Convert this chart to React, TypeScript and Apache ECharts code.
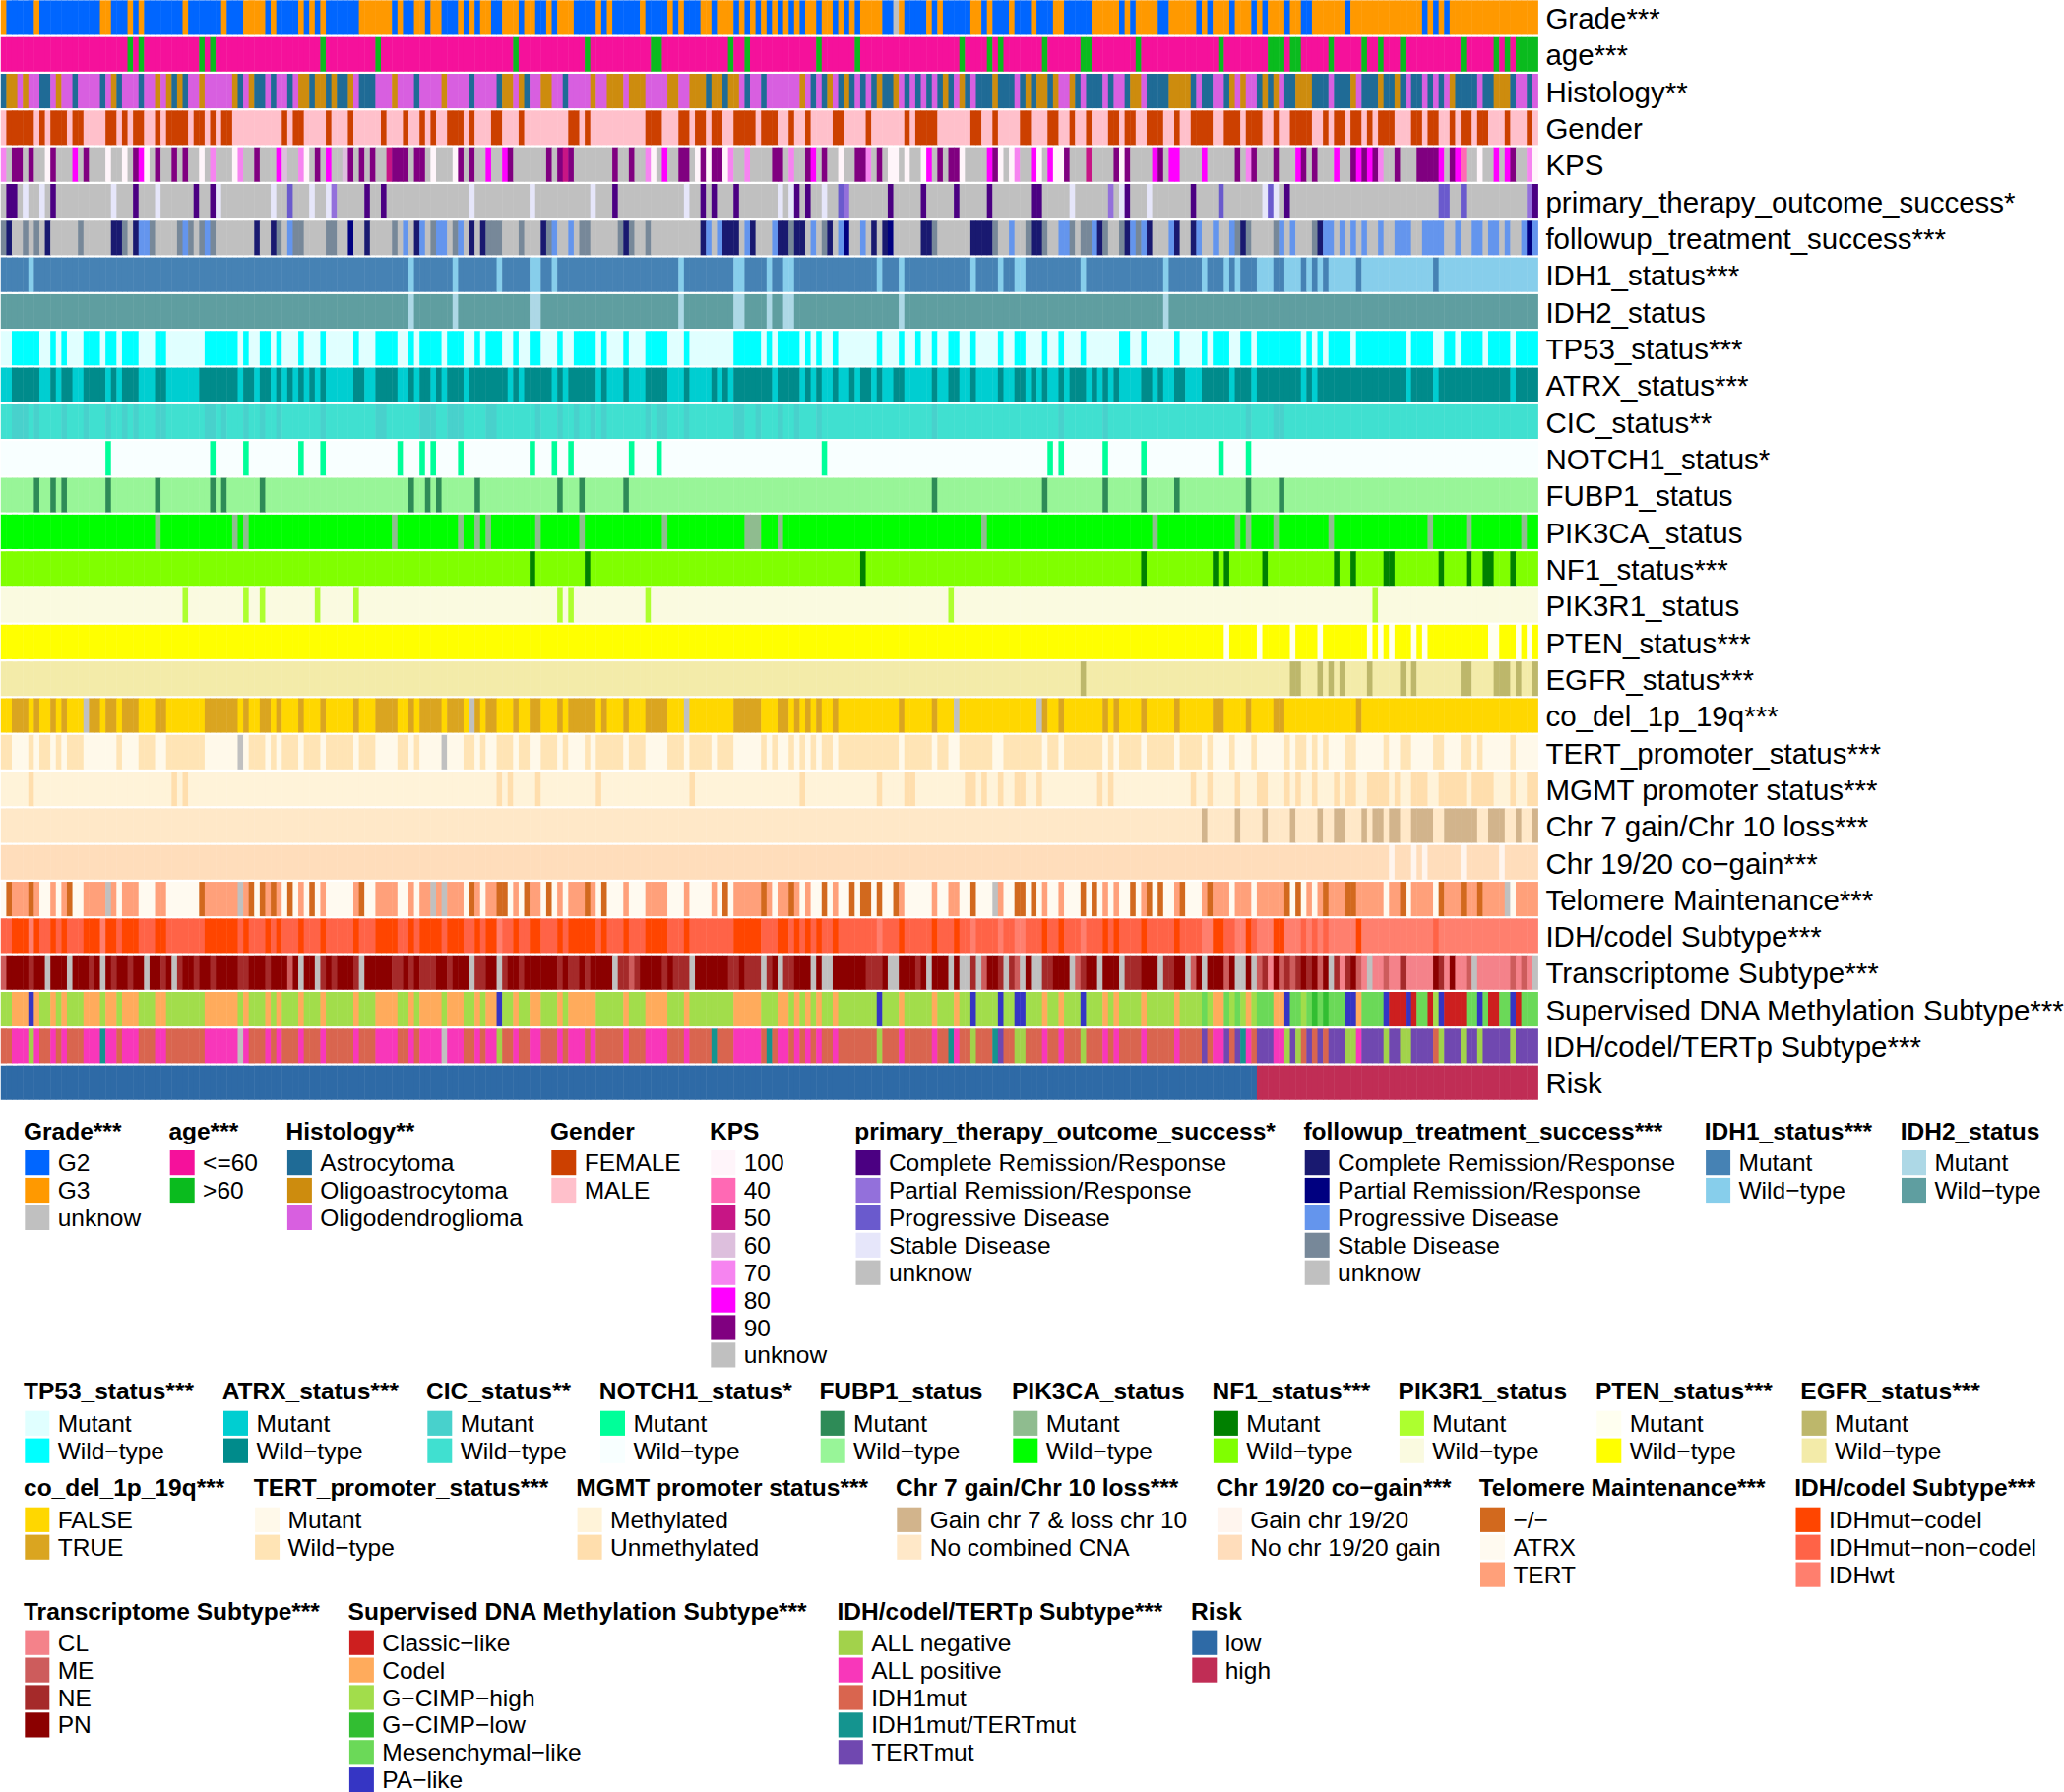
import React, { useEffect, useRef } from "react";
import * as echarts from "echarts";

const SAMPLE_COUNT = 279;
const FONT = '"Liberation Sans", Arial, sans-serif';
const GRAY = "#C0C0C0";

// Column spans are written "from-to" in sample order (to is exclusive).
const gradeLevels = ["G2", "G3", "unknow"];
const gradeRuns = {
  G2: "1-6 7-18 20-23 24-25 26-33 34-40 41-44 48-49 50-54 55-56 57-58 59-65 71-72 73-75 77-78 80-83 84-85 86-87 89-91 94-95 97-99 100-101 104-108 109-110 111-116 117-121 122-123 124-127 129-130 133-134 135-136 137-138 139-140 141-142 143-144 145-146 148-149 151-152 153-154 155-156 160-162 164-168 169-170 171-176 178-179 180-183 184-187 188-191 193-198 203-204 205-206 210-212 217-218 219-220 223-224 227-228 229-230 233-234 236-238 244-245 258-259 260-261 262-263",
  unknow: "162-163",
};

const ageLevels = ["<=60", ">60"];
const ageRuns = {
  ">60": "23-24 25-26 36-37 38-39 58-59 68-69 93-94 106-107 118-120 132-133 135-136 148-149 155-156 174-175 179-180 181-182 189-190 196-198 206-207 221-222 230-233 234-236 241-242 247-248 250-251 254-255 265-266 271-272 273-274 275-279",
};

const histologyLevels = ["Astrocytoma", "Oligoastrocytoma", "Oligodendroglioma"];
const histologyRuns = {
  Astrocytoma: "0-1 7-9 13-14 18-19 21-22 25-26 31-32 33-34 43-44 46-48 49-50 52-53 56-57 59-60 61-63 65-68 75-76 85-86 90-91 95-96 102-103 128-129 131-132 135-136 138-139 147-148 149-150 152-153 154-155 156-157 158-159 160-162 164-165 166-167 168-169 170-171 172-173 175-176 177-180 181-184 185-186 187-188 190-191 195-196 197-200 201-202 204-205 208-212 216-217 218-220 222-223 228-229 230-231 233-235 238-241 242-245 247-250 251-253 254-255 256-258 259-260 261-262 264-268 269-271 274-275 277-278",
  Oligoastrocytoma: "1-3 4-5 10-11 20-21 28-29 30-31 32-33 36-37 42-43 45-46 54-56 57-59 60-61 63-64 71-72 80-81 91-93 94-95 98-100 107-108 110-113 114-117 121-123 125-128 129-131 132-134 145-146 150-151 153-154 159-160 162-163 171-172 174-175 180-181 186-187 188-190 191-192 194-195 205-207 212-216 223-224 225-226 229-230 231-232 235-238 245-246 250-251 253-254 263-264 271-274",
};

const genderLevels = ["FEMALE", "MALE"];
const genderRuns = {
  FEMALE: "1-6 7-8 9-12 13-15 19-21 22-23 24-26 28-29 30-34 35-37 38-39 40-42 51-52 53-55 59-60 63-64 69-70 73-74 76-77 78-79 81-84 85-86 89-91 94-95 103-105 106-107 117-120 123-125 126-128 129-131 133-137 138-141 143-144 146-147 151-153 157-158 164-165 166-170 176-178 180-181 185-187 190-192 194-195 197-198 201-203 204-206 208-211 213-214 216-220 222-225 226-229 231-232 234-238 240-241 242-244 245-247 248-249 250-253 256-258 259-261 263-264 265-267 268-270 273-274 277-278",
};

const kpsLevels = ["100", "40", "50", "60", "70", "80", "90", "unknow"];
const kpsRuns = {
  "100": "8-9 19-20 22-23 26-27 36-37 42-43 55-56 78-79 82-83 118-119 126-127 128-129 131-132 152-153 161-163 164-165 167-168 174-175 181-182 183-184 188-189 191-193 203-204 268-269 278-279",
  "40": "265-266",
  "50": "70-71 102-103 197-198",
  "60": "51-52 62-63",
  "70": "0-1 38-39 43-44 54-55 117-118 132-133 135-136 143-144 157-158 184-185 226-227 250-251 277-278",
  "80": "13-14 25-26 50-51 59-60 88-89 91-92 120-121 147-148 168-169 179-180 187-188 190-191 209-210 212-214 218-219 235-236 242-243 246-247 248-249 261-262 264-265 271-272 273-274",
  "90": "2-4 5-6 9-10 15-16 24-25 28-29 31-32 33-34 46-47 57-58 63-64 65-66 67-68 71-74 75-77 83-84 85-86 92-93 99-100 101-102 103-104 111-112 114-115 123-125 127-128 129-131 140-142 146-147 149-150 155-157 159-160 170-171 172-174 180-181 193-194 202-203 204-205 210-211 224-225 227-228 231-232 236-237 238-239 245-246 247-248 249-250 253-254 257-261 263-264 274-275",
};

const responseLevels = ["Complete Remission/Response", "Partial Remission/Response", "Progressive Disease", "Stable Disease", "unknow"];
const primaryRuns = {
  "Complete Remission/Response": "1-3 9-10 24-25 35-36 38-39 66-67 69-70 111-112 127-128 129-130 133-134 144-145 146-147 161-162 167-168 173-174 179-180 187-189 204-205 216-217 233-234 278-279",
  "Partial Remission/Response": "60-61 153-154 201-202 277-278",
  "Progressive Disease": "52-53 152-153 221-222 230-231 261-263 265-266",
  "Stable Disease": "4-5 7-8 20-21 28-29 39-40 49-50 56-57 59-60 85-86 96-97 107-108 124-125 141-142 143-144 149-150 194-195 203-204 208-209 229-230 231-232",
};
const followupRuns = {
  "Complete Remission/Response": "1-2 8-9 20-22 24-25 46-47 49-50 66-67 75-76 85-86 87-88 98-99 113-114 127-128 131-134 136-137 141-143 144-146 150-151 158-159 160-161 167-169 176-180 187-189 199-200 204-205 208-209 213-214 216-217 225-226 239-240",
  "Partial Remission/Response": "63-64 153-154 161-162 277-278",
  "Progressive Disease": "25-27 33-34 37-38 52-53 73-74 76-77 79-81 83-84 100-101 103-104 128-129 130-131 135-136 140-141 147-148 152-153 156-157 183-184 192-194 198-199 205-206 207-208 212-213 217-218 220-221 223-224 232-233 234-235 240-242 243-244 245-246 247-248 250-251 253-256 258-262 264-265 267-269 270-272 273-274 276-277 278-279",
  "Stable Disease": "0-1 4-5 6-7 14-15 22-23 27-28 32-33 34-35 36-37 38-39 50-51 53-55 59-61 71-72 78-79 82-83 88-91 94-95 99-100 105-107 112-113 114-115 117-118 143-144 149-150 169-170 180-181 186-187 189-190 194-195 196-198 200-201 203-204 206-207 224-225 226-227 231-232 238-239",
};

const mutWildLevels = ["Mutant", "Wild−type"];
const idh1Runs = { "Wild−type": "5-6 74-75 82-83 90-91 96-98 100-101 123-124 133-135 139-140 142-144 159-160 163-164 176-177 181-182 184-186 196-197 211-212 218-219 222-223 224-225 228-231 233-236 237-238 239-240 241-246 247-260 261-279" };
const idh2Runs = { Mutant: "74-75 82-83 96-98 123-124 133-135 139-140 142-144 163-164 211-212" };
const tp53Runs = { "Wild−type": "2-7 9-10 11-12 15-18 19-21 22-25 28-30 37-43 44-45 47-49 50-51 54-55 58-59 64-65 68-72 74-75 76-80 81-84 86-87 88-91 93-94 96-98 101-102 104-108 109-110 113-114 117-121 124-125 133-138 139-140 141-145 146-147 148-149 151-152 159-160 163-164 166-167 169-170 172-174 176-177 181-182 184-186 189-190 192-193 196-197 203-205 207-208 213-214 218-219 220-223 225-227 228-236 237-238 239-240 241-245 246-255 256-260 262-264 265-269 270-274 275-279" };
const atrxRuns = { "Wild−type": "2-7 9-10 11-13 15-19 20-21 22-25 28-30 36-43 44-46 47-49 50-51 52-53 54-55 56-57 58-59 64-66 68-72 74-75 76-78 79-80 81-84 85-92 93-94 95-100 101-102 103-108 109-110 113-114 117-121 124-125 129-130 131-132 133-140 141-145 146-147 148-149 151-152 154-155 156-158 159-160 162-164 169-170 172-174 176-177 181-182 184-186 187-188 189-190 192-193 194-197 198-199 200-201 202-203 207-209 210-211 213-215 218-223 224-227 228-236 237-238 239-255 256-260 261-274 275-279" };
const cicRuns = { Mutant: "2-5 6-7 11-12 15-16 19-20 22-23 24-25 28-30 37-39 40-41 44-45 47-48 50-51 58-59 68-70 76-79 81-84 88-90 97-98 101-102 104-105 107-108 109-110 117-118 119-121 124-125 133-135 137-138 141-142 144-145 148-149 169-170 192-193 200-201 226-227 231-233" };
const notch1Runs = { Mutant: "19-20 38-39 44-45 54-55 58-59 72-73 76-77 78-79 83-84 96-97 100-101 103-104 114-115 119-120 149-150 190-191 192-193 200-201 207-208 221-222 226-227" };
const fubp1Runs = { Mutant: "6-7 9-10 11-12 19-20 28-29 38-39 40-41 47-48 74-75 77-78 79-80 86-87 101-102 105-106 113-114 169-170 189-190 200-201 207-208 213-214 226-227 232-233" };
const pik3caRuns = { Mutant: "28-29 42-43 44-45 71-72 83-84 86-87 88-89 97-98 105-106 120-121 135-138 141-142 178-179 209-210 224-225 226-227 231-232 241-242 259-260 266-267 276-277" };
const nf1Runs = { Mutant: "96-97 106-107 156-157 207-208 220-221 222-223 229-230 242-243 245-246 251-253 261-262 266-267 269-271 274-275" };
const pik3r1Runs = { Mutant: "33-34 44-45 47-48 57-58 64-65 101-102 103-104 117-118 172-173 249-250" };
const ptenRuns = { Mutant: "222-223 228-229 234-235 239-240 248-249 250-251 252-253 256-257 258-259 270-272 275-276 277-278" };
const egfrRuns = { Mutant: "196-197 234-236 239-240 241-242 243-244 248-249 254-255 256-257 265-267 271-274 275-276 278-279" };

const codelLevels = ["FALSE", "TRUE"];
const codelRuns = {
  TRUE: "2-5 6-7 9-10 11-12 16-18 19-21 22-25 28-30 37-43 44-45 47-49 50-51 54-55 58-59 64-65 68-72 74-75 76-80 81-84 86-87 88-90 93-94 96-98 101-102 103-108 109-110 113-114 117-121 133-138 141-143 144-145 146-147 148-149 151-152 163-164 169-170 189-190 192-193 200-201 202-203 207-208 213-214 220-222 226-227 231-233 246-247",
  NA: "15-16 85-86 124-125 173-174 188-189",
};
const tertRuns = {
  "Wild−type": "0-2 5-6 7-9 10-11 12-15 21-22 25-28 30-37 45-48 49-50 51-54 55-58 59-64 65-68 72-74 75-76 84-86 87-88 90-93 94-96 98-101 102-103 106-107 108-113 114-117 121-124 125-129 130-133 138-139 140-141 143-144 145-146 147-148 149-151 152-163 164-169 170-172 174-180 182-189 190-192 193-200 201-202 203-207 208-213 214-218 219-220 223-224 227-228 233-234 235-237 238-239 240-241 244-246 251-252 254-256 260-262 265-267 268-269 274-275",
  NA: "43-44 80-81",
};
const mgmtLevels = ["Methylated", "Unmethylated"];
const mgmtRuns = { Unmethylated: "5-6 31-32 33-34 90-91 92-93 97-98 108-109 125-126 145-146 159-160 164-166 175-177 178-179 181-182 184-186 188-189 199-200 201-202 216-217 219-220 224-225 228-230 233-234 235-236 238-239 242-243 244-246 248-252 253-254 256-259 261-266 267-271 274-275 277-279" };
const chr7Levels = ["Gain chr 7 & loss chr 10", "No combined CNA"];
const chr7Runs = { "Gain chr 7 & loss chr 10": "218-219 224-225 229-230 234-235 239-240 242-244 247-248 249-251 252-254 256-260 262-268 270-273 275-276 278-279" };
const chr19Levels = ["Gain chr 19/20", "No chr 19/20 gain"];
const chr19Runs = { "Gain chr 19/20": "252-253 256-257 258-259 265-266 272-273" };

const telomereLevels = ["−/−", "ATRX", "TERT"];
const telomereRuns = {
  "−/−": "1-2 5-6 12-13 36-37 45-46 47-48 49-50 52-53 56-57 65-66 85-86 90-92 95-96 99-100 106-107 109-110 131-132 138-139 143-144 149-150 154-155 156-158 159-160 162-163 176-177 184-186 187-188 196-197 198-199 205-206 208-209 210-211 214-215 219-220 233-234 235-236 240-241 244-246 254-255 261-262 265-266 268-269",
  TERT: "2-5 6-7 9-10 11-12 15-19 20-21 22-25 28-30 37-43 44-45 48-49 50-51 54-55 58-59 64-65 68-72 74-75 76-78 79-80 81-84 86-87 88-90 93-94 96-98 101-102 103-106 107-108 113-114 117-121 124-125 129-130 133-138 139-140 141-143 144-145 146-147 151-152 163-164 169-170 172-174 181-182 189-190 192-193 200-201 202-203 207-208 213-214 218-219 220-223 224-227 228-233 237-238 239-240 241-244 246-251 252-254 256-260 262-265 266-268 269-273 275-279",
  NA: "19-20 43-44 78-79 80-81 180-181 273-274",
};

const subtypeLevels = ["IDHmut−codel", "IDHmut−non−codel", "IDHwt"];
const subtypeRuns = {
  "IDHmut−codel": "2-5 6-7 9-10 11-12 15-18 19-21 22-25 28-30 37-43 44-45 48-49 50-51 54-55 58-59 64-65 68-72 74-75 76-80 81-84 86-87 88-90 93-94 96-98 101-102 103-108 109-110 113-114 117-121 124-125 133-138 141-143 144-145 146-147 148-149 151-152 163-164 169-170 173-174 189-190 192-193 200-201 202-203 207-208 213-214 220-222 226-227 231-233 246-247",
  IDHwt: "5-6 18-19 90-91 159-160 176-177 181-182 184-186 196-197 218-220 224-226 228-231 233-236 237-238 239-240 241-246 247-260 261-279",
};

const transcriptomeLevels = ["CL", "ME", "NE", "PN"];
const transcriptomeRuns = {
  CL: "230-231 243-244 247-248 249-251 252-254 255-260 262-263 264-266 268-274 275-276 277-278",
  ME: "0-1 52-53 114-115 178-179 184-185 195-196 216-217 222-223 228-229 232-233 234-235 239-240 246-247 251-252 266-267 274-275 276-277",
  NE: "5-6 16-17 20-21 23-24 29-30 32-33 35-36 38-39 43-45 48-49 58-59 60-61 64-65 71-73 74-75 76-79 81-82 86-88 91-92 94-95 101-102 103-105 106-107 112-114 115-116 120-121 122-125 132-134 135-138 139-140 142-144 157-160 166-167 176-177 181-182 183-184 189-191 196-197 204-207 211-213 229-230 233-234 235-236 237-238 242-243 244-245 254-255 261-262",
  NA: "8-9 12-13 18-19 26-27 31-32 54-55 57-58 65-66 85-86 90-91 111-112 125-126 138-139 141-142 147-148 149-151 161-163 168-169 172-173 174-176 177-178 182-183 185-186 187-189 194-195 199-200 203-204 210-211 215-216 218-219 224-226 227-228 241-242 248-249 267-268 278-279",
};

const methylationLevels = ["Classic−like", "Codel", "G−CIMP−high", "G−CIMP−low", "Mesenchymal−like", "PA−like"];
const methylationRuns = {
  "Classic−like": "252-255 256-257 259-260 262-266 270-272 275-276",
  Codel: "2-5 6-7 9-10 11-12 15-18 19-21 22-25 28-30 37-43 44-45 48-49 50-51 54-55 58-59 64-65 68-72 74-75 76-80 81-84 86-87 88-90 93-94 96-98 101-102 103-108 113-114 117-121 124-125 133-138 141-143 144-145 146-147 148-149 151-152 163-164 169-170 173-174 189-190 192-193 200-201 202-203 207-208 213-214 220-222 226-227 231-233 246-247",
  "G−CIMP−low": "238-239 240-241",
  "Mesenchymal−like": "218-219 222-223 224-225 228-231 234-236 237-238 239-240 241-244 247-251 257-259 266-268 269-270 272-274 276-279",
  "PA−like": "5-6 90-91 159-160 176-177 181-182 184-186 196-197 233-234 244-246 251-252 255-256 261-262 268-269 274-275",
};

const tertSubtypeLevels = ["ALL negative", "ALL positive", "IDH1mut", "IDH1mut/TERTmut", "TERTmut"];
const tertSubtypeRuns = {
  "ALL negative": "5-6 90-91 159-160 176-177 184-186 196-197 233-234 235-236 244-246 251-252 254-256 261-262 265-266 268-269 274-275",
  "ALL positive": "2-5 6-7 9-10 11-12 15-18 19-21 22-25 28-30 37-43 44-45 48-49 50-51 54-55 58-59 64-65 68-72 74-75 76-80 81-84 86-87 88-90 93-94 96-98 101-102 103-106 107-108 113-114 117-121 124-125 133-138 141-143 144-145 146-147 148-149 151-152 163-164 169-170 173-174 189-190 192-193 200-201 202-203 207-208 213-214 220-222 226-227 231-233 246-247",
  "IDH1mut/TERTmut": "18-19 129-130 139-140 172-173 180-181 225-226",
  TERTmut: "181-182 218-219 222-223 224-225 228-231 234-235 237-238 239-240 241-244 247-251 252-254 256-260 262-265 266-268 269-274 275-279",
  NA: "43-44 80-81",
};

const riskLevels = ["low", "high"];
const riskRuns = { high: "228-279" };

// Palettes (styles), in the same order as each track's levels.
const gradeColors = ["#0066FF", "#FF9900", GRAY];
const ageColors = ["#F5119B", "#0ABB1E"];
const histologyColors = ["#1F6B96", "#CD8C0E", "#D85FE0"];
const genderColors = ["#CC4000", "#FFC0CB"];
const kpsColors = ["#FFF5FA", "#FF69B4", "#C71585", "#DDBFDD", "#F684F0", "#FF00FF", "#800080", GRAY];
const primaryColors = ["#4B0082", "#9370DB", "#6A5ACD", "#E6E6FA", GRAY];
const followupColors = ["#191970", "#000080", "#6495ED", "#778899", GRAY];

const trackDefs: any[] = [
  ["Grade***", gradeLevels, gradeColors, "G3", gradeRuns],
  ["age***", ageLevels, ageColors, "<=60", ageRuns],
  ["Histology**", histologyLevels, histologyColors, "Oligodendroglioma", histologyRuns],
  ["Gender", genderLevels, genderColors, "MALE", genderRuns],
  ["KPS", kpsLevels, kpsColors, "unknow", kpsRuns],
  ["primary_therapy_outcome_success*", responseLevels, primaryColors, "unknow", primaryRuns],
  ["followup_treatment_success***", responseLevels, followupColors, "unknow", followupRuns],
  ["IDH1_status***", mutWildLevels, ["#4682B4", "#87CEEB"], "Mutant", idh1Runs],
  ["IDH2_status", mutWildLevels, ["#ADD8E6", "#5F9EA0"], "Wild−type", idh2Runs],
  ["TP53_status***", mutWildLevels, ["#E0FFFF", "#00FFFF"], "Mutant", tp53Runs],
  ["ATRX_status***", mutWildLevels, ["#00CED1", "#008B8B"], "Mutant", atrxRuns],
  ["CIC_status**", mutWildLevels, ["#48D1CC", "#40E0D0"], "Wild−type", cicRuns],
  ["NOTCH1_status*", mutWildLevels, ["#00FF99", "#F8FFFF"], "Wild−type", notch1Runs],
  ["FUBP1_status", mutWildLevels, ["#2E8B57", "#98F598"], "Wild−type", fubp1Runs],
  ["PIK3CA_status", mutWildLevels, ["#8FBC8F", "#00FF00"], "Wild−type", pik3caRuns],
  ["NF1_status***", mutWildLevels, ["#008000", "#80FF00"], "Wild−type", nf1Runs],
  ["PIK3R1_status", mutWildLevels, ["#ADFF2F", "#FAFAE0"], "Wild−type", pik3r1Runs],
  ["PTEN_status***", mutWildLevels, ["#FFFFF0", "#FFFF00"], "Wild−type", ptenRuns],
  ["EGFR_status***", mutWildLevels, ["#BDB76B", "#F3EBA9"], "Wild−type", egfrRuns],
  ["co_del_1p_19q***", codelLevels, ["#FFD700", "#DAA520"], "FALSE", codelRuns],
  ["TERT_promoter_status***", mutWildLevels, ["#FFF9EA", "#FFE4B5"], "Mutant", tertRuns],
  ["MGMT promoter status***", mgmtLevels, ["#FFF3D9", "#FFDEAD"], "Methylated", mgmtRuns],
  ["Chr 7 gain/Chr 10 loss***", chr7Levels, ["#D2B48C", "#FFE8C8"], "No combined CNA", chr7Runs],
  ["Chr 19/20 co−gain***", chr19Levels, ["#FFF5EE", "#FFDDBB"], "No chr 19/20 gain", chr19Runs],
  ["Telomere Maintenance***", telomereLevels, ["#D2691E", "#FFFAF0", "#FFA07A"], "ATRX", telomereRuns],
  ["IDH/codel Subtype***", subtypeLevels, ["#FF4500", "#FF6347", "#FF7F6E"], "IDHmut−non−codel", subtypeRuns],
  ["Transcriptome Subtype***", transcriptomeLevels, ["#F4828A", "#CD5C5C", "#A52A2A", "#8B0000"], "PN", transcriptomeRuns],
  ["Supervised DNA Methylation Subtype***", methylationLevels, ["#CD1F1F", "#FFAB5C", "#A2DD4B", "#32BE32", "#6BD958", "#3535C4"], "G−CIMP−high", methylationRuns],
  ["IDH/codel/TERTp Subtype***", tertSubtypeLevels, ["#A2D24B", "#F837BA", "#D9654F", "#14948F", "#7048B0"], "IDH1mut", tertSubtypeRuns],
  ["Risk", riskLevels, ["#2E6AA6", "#C02D55"], "low", riskRuns],
];

// Legend layout: [track index, title x] for each legend row.
const legendRows = [
  { titleY: 1149, firstY: 1181.6, items: [[0, 24], [1, 171.4], [2, 290.6], [3, 559], [4, 721], [5, 868.2], [6, 1324.4], [7, 1731.8], [8, 1930.7]] },
  { titleY: 1413.7, firstY: 1446.3, items: [[9, 24], [10, 225.7], [11, 433], [12, 608.7], [13, 832.4], [14, 1028], [15, 1231.6], [16, 1420.6], [17, 1621], [18, 1829.3]] },
  { titleY: 1511.9, firstY: 1544.3, items: [[19, 24], [20, 257.8], [21, 585.3], [22, 910], [23, 1235.6], [24, 1502.7], [25, 1823.2]] },
  { titleY: 1637.3, firstY: 1669.2, items: [[26, 24], [27, 353.6], [28, 850.5], [29, 1210]] },
];

function expand(levels: string[], base: string, runs: Record<string, string>) {
  const out: number[] = new Array(SAMPLE_COUNT).fill(levels.indexOf(base));
  for (const key of Object.keys(runs)) {
    const index = key === "NA" ? levels.length : levels.indexOf(key);
    for (const span of runs[key].split(" ")) {
      const [from, to] = span.split("-").map(Number);
      for (let c = from; c < to; c++) out[c] = index;
    }
  }
  return out;
}

function buildLegend() {
  const graphics: any[] = [];
  for (const row of legendRows) {
    for (const [trackIndex, x] of row.items) {
      const [name, levels, colors] = trackDefs[trackIndex];
      graphics.push({
        type: "text",
        silent: true,
        style: { text: name, x, y: row.titleY, fill: "#000", fontFamily: FONT, fontWeight: "bold", fontSize: 24.5, verticalAlign: "middle" },
      });
      levels.forEach((label: string, i: number) => {
        const cy = row.firstY + i * 27.9;
        graphics.push({
          type: "rect",
          silent: true,
          shape: { x: x + 1.3, y: cy - 12.6, width: 25, height: 25.2 },
          style: { fill: colors[i] },
        });
        graphics.push({
          type: "text",
          silent: true,
          style: { text: label, x: x + 34.7, y: cy, fill: "#000", fontFamily: FONT, fontSize: 24.5, verticalAlign: "middle" },
        });
      });
    }
  }
  return graphics;
}

export default function App() {
  const ref = useRef<HTMLDivElement>(null);
  useEffect(() => {
    document.body.style.margin = "0";
    const chart = echarts.init(ref.current!, undefined, { renderer: "svg" });
    const names = trackDefs.map((t) => t[0]);
    const palettes = trackDefs.map((t) => [...t[2], GRAY]);
    const cells: number[][] = [];
    trackDefs.forEach(([, levels, , base, runs], r) => {
      expand(levels, base, runs).forEach((v, c) => cells.push([c, r, v]));
    });
    chart.setOption({
      animation: false,
      backgroundColor: "#fff",
      grid: { left: 0.8, top: 0, width: 1561.6, height: 1119.6, outerBoundsMode: "none" },
      xAxis: {
        type: "category",
        data: Array.from({ length: SAMPLE_COUNT }, (_, i) => String(i + 1)),
        show: false,
      },
      yAxis: {
        type: "category",
        data: names,
        inverse: true,
        position: "right",
        axisLine: { show: false },
        axisTick: { show: false },
        axisLabel: { color: "#000", fontFamily: FONT, fontSize: 29.5, margin: 8, align: "left", interval: 0 },
      },
      series: [
        {
          type: "custom",
          silent: true,
          data: cells,
          encode: { x: 0, y: 1 },
          renderItem: (_: any, api: any) => {
            const c = api.value(0);
            const r = api.value(1);
            const p = api.coord([c, r]);
            const s = api.size([1, 1]);
            return {
              type: "rect",
              shape: { x: p[0] - s[0] / 2, y: p[1] - s[1] * 0.49, width: s[0] + 0.5, height: s[1] * 0.94 },
              style: { fill: palettes[r][api.value(2)] },
            };
          },
        },
      ],
      graphic: buildLegend(),
    });
    return () => chart.dispose();
  }, []);
  return <div ref={ref} style={{ position: "absolute", left: 0, top: 0, width: 2097, height: 1821 }} />;
}
